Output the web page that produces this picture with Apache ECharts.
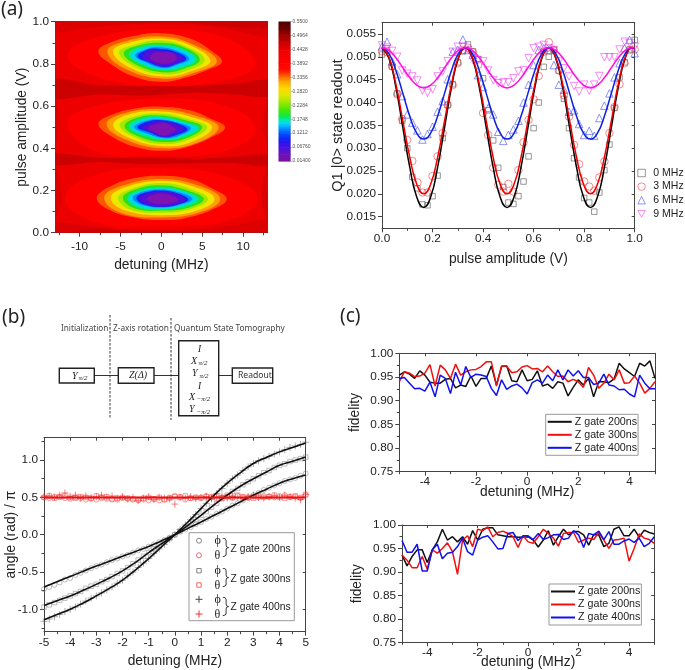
<!DOCTYPE html>
<html><head><meta charset="utf-8">
<style>html,body{margin:0;padding:0;background:#fff}#main{width:685px;height:670px;filter:blur(0.45px)}</style>
<script src="https://cdn.jsdelivr.net/npm/echarts@6/dist/echarts.min.js"></script>
</head><body><div id="main"></div>
<script>
// ---------- panel (a) left: contour map, rings as [detuning MHz, amplitude V]
const contourColors = ['#cc0000','#dc0000','#ff0000','#ff5500','#ffa000','#eee800','#a4e800','#28e020','#00e8a0','#00d4f4','#0088ff','#1a20f0','#5010d8','#7f12b0'];
const bandRings = [
 [0,[[-13,.635],[-8,.655],[-2,.65],[4,.665],[9,.655],[13,.645],[13,.725],[9,.705],[4,.70],[-2,.695],[-8,.70],[-13,.73]]],
 [0,[[-13,.32],[-8,.335],[-2,.325],[4,.33],[9,.33],[13,.315],[13,.37],[9,.36],[4,.35],[-2,.355],[-8,.355],[-13,.375]]],
 [1,[[-13,.95],[-9,.97],[-3,.99],[3,.99],[9,.96],[13,.93],[13,1.02],[-13,1.02]]],
 [1,[[-13,-.02],[13,-.02],[13,.06],[9,.035],[3,.012],[-3,.012],[-9,.03],[-13,.05]]],
 [0,[[-4,.995],[2,1.0],[9,.975],[13,.97],[13,1.02],[-4,1.02]]],
 [0,[[-11,.005],[-8,.02],[-5,.008],[-5,-.01],[-12,-.01]]],
 [1,[[-13,.06],[-12.2,.16],[-12.5,.27],[-13,.33]]],
 [1,[[13,.05],[12.2,.16],[12.5,.27],[13,.33]]],
 [1,[[-13,.4],[-12.4,.5],[-12.6,.58],[-13,.65]]],
 [1,[[13,.4],[12.4,.5],[12.6,.58],[13,.65]]]
];
const haloRings = [
 [2,[[-11.5,.84],[-8,.925],[0,.965],[8,.92],[11.5,.80],[8,.725],[0,.695],[-8,.74]]],
 [2,[[-11.5,.52],[-8,.60],[0,.635],[8,.60],[11.5,.49],[8,.39],[0,.365],[-8,.385]]],
 [2,[[-11.8,.165],[-8,.275],[0,.305],[8,.265],[11.8,.16],[8,.055],[0,.03],[-8,.05]]]
];
const ringsTop = [
 [[-7.7,.86],[-6,.905],[-3,.935],[0,.945],[3.5,.92],[6,.865],[7.4,.81],[5.5,.77],[3,.735],[.3,.715],[-3,.735],[-6,.795]],
 [[-6.6,.86],[-4.6,.905],[0,.93],[4,.89],[6.8,.815],[4.6,.765],[.3,.73],[-4.6,.78]],
 [[-5.9,.86],[-4,.9],[0,.92],[3.7,.885],[6,.815],[4,.77],[.3,.74],[-4,.785]],
 [[-5.2,.855],[-3.4,.89],[0,.912],[3.4,.875],[5.3,.82],[3.6,.775],[.3,.75],[-3.4,.79]],
 [[-4.6,.85],[-3,.885],[0,.9],[3,.875],[4.7,.82],[3,.78],[.3,.76],[-3,.795]],
 [[-4,.845],[-2.6,.88],[0,.89],[2.7,.87],[4.3,.82],[2.7,.785],[.3,.77],[-2.5,.80]],
 [[-3.6,.84],[-2.2,.875],[0,.885],[2.5,.865],[4,.825],[2.5,.79],[.3,.775],[-2.2,.80]],
 [[-3.2,.84],[-1.9,.87],[-.5,.88],[1.9,.862],[3.4,.825],[2.1,.798],[.3,.78],[-1.9,.808]],
 [[-2.9,.835],[-1.7,.868],[-.3,.872],[1.7,.858],[3.05,.825],[1.8,.80],[.3,.785],[-1.7,.81]],
 [[-2.3,.835],[-1.5,.865],[-.2,.862],[1.5,.855],[2.7,.825],[1.6,.80],[.3,.79],[-1.5,.81]],
 [[-1.4,.83],[-.7,.855],[.3,.855],[1.4,.85],[1.9,.825],[1.2,.805],[.3,.80],[-.8,.81]]
];
const ringsMiddle = [
 [[-7.7,.515],[-6,.56],[-3,.59],[0,.597],[3.5,.58],[6,.54],[7.8,.50],[6,.45],[3,.405],[.3,.388],[-3,.405],[-6,.455]],
 [[-6.7,.515],[-4.6,.565],[0,.585],[4.6,.55],[7,.5],[4.6,.43],[.3,.4],[-4.6,.445]],
 [[-5.9,.51],[-4,.56],[0,.575],[4,.545],[6.2,.5],[4,.435],[.3,.41],[-4,.45]],
 [[-5.1,.51],[-3.4,.55],[0,.565],[3.6,.535],[5.6,.5],[3.6,.445],[.3,.42],[-3.4,.455]],
 [[-4.5,.505],[-3,.545],[0,.555],[3.2,.53],[5,.5],[3.2,.45],[.3,.43],[-3,.46]],
 [[-4,.505],[-2.6,.54],[0,.55],[2.8,.525],[4.6,.495],[2.8,.455],[.3,.44],[-2.6,.465]],
 [[-3.6,.50],[-2.2,.535],[0,.542],[2.4,.525],[4.3,.495],[2.4,.46],[.3,.445],[-2.2,.47]],
 [[-3.3,.50],[-1.9,.53],[0,.537],[2.2,.52],[3.6,.495],[2.2,.46],[.3,.448],[-1.9,.472]],
 [[-2.9,.50],[-1.6,.528],[0,.533],[2,.518],[3.2,.49],[2,.465],[.3,.452],[-1.6,.478]],
 [[-2.3,.50],[-1.3,.52],[0,.53],[1.8,.515],[2.7,.49],[1.7,.47],[.3,.455],[-1.3,.48]],
 [[-1.6,.495],[-.7,.515],[.4,.52],[1.3,.505],[1.8,.49],[1.1,.47],[.3,.46],[-.8,.475]]
];
const ringsBottom = [
 [[-7.9,.163],[-6.2,.22],[-3,.26],[0,.27],[3.5,.255],[6.2,.21],[8,.16],[6.2,.11],[3,.07],[.3,.06],[-3,.07],[-6.2,.105]],
 [[-7,.165],[-5,.22],[0,.255],[4.8,.22],[7.2,.16],[5,.10],[.3,.072],[-5,.095]],
 [[-6.2,.165],[-4.4,.215],[0,.245],[4.2,.215],[6.5,.16],[4.4,.105],[.3,.083],[-4.4,.105]],
 [[-5.3,.165],[-3.8,.205],[0,.235],[3.7,.205],[5.7,.16],[3.8,.115],[.3,.095],[-3.8,.11]],
 [[-4.7,.165],[-3.2,.205],[0,.225],[3.2,.20],[5.2,.16],[3.4,.12],[.3,.105],[-3.2,.115]],
 [[-4.2,.165],[-2.8,.20],[0,.215],[2.9,.195],[4.6,.16],[3,.125],[.3,.11],[-2.8,.12]],
 [[-3.9,.165],[-2.5,.195],[0,.21],[2.6,.195],[4.2,.16],[2.7,.13],[.3,.115],[-2.5,.125]],
 [[-3.5,.165],[-2.2,.195],[0,.205],[2.3,.19],[3.8,.16],[2.4,.135],[.3,.12],[-2.2,.13]],
 [[-3.05,.165],[-2,.19],[0,.2],[2.1,.185],[3.3,.157],[2.2,.135],[.3,.122],[-2,.132]],
 [[-2.7,.165],[-1.8,.185],[0,.195],[2,.185],[2.9,.155],[2,.137],[.3,.125],[-1.8,.135]],
 [[-1.8,.16],[-1,.18],[.3,.185],[1.4,.175],[2.1,.155],[1.2,.14],[.3,.135],[-1,.14]]
];
// colour scale: [value, colour]
const colorbarStops = [[.014,'#7d0f9f'],[.04,'#6a10c0'],[.067,'#4a10e0'],[.094,'#1a18f4'],[.121,'#0050ff'],[.148,'#00b0ff'],[.161,'#00e0f0'],[.175,'#00e8a0'],[.188,'#10e840'],[.215,'#50e800'],[.242,'#a0e800'],[.269,'#e0e800'],[.296,'#ffd800'],[.323,'#ffa000'],[.336,'#ff7000'],[.35,'#ff4000'],[.363,'#ff1000'],[.39,'#ff0000'],[.44,'#f00000'],[.47,'#c80000'],[.497,'#a00000'],[.523,'#700000'],[.55,'#4a0000']];
const colorbarTicks = [.014,.0676,.1212,.1748,.2284,.282,.3356,.3892,.4428,.4964,.55];
const colorbarLabels = ['0.01400','0.06760','0.1212','0.1748','0.2284','0.2820','0.3356','0.3892','0.4428','0.4964','0.5500'];

// ---------- panel (a) right
const ampX = [0,.02,.04,.06,.08,.1,.12,.14,.16,.18,.2,.22,.24,.26,.28,.3,.32,.34,.36,.38,.4,.42,.44,.46,.48,.5,.52,.54,.56,.58,.6,.62,.64,.66,.68,.7,.72,.74,.76,.78,.8,.82,.84,.86,.88,.9,.92,.94,.96,.98,1];
const read0 = [.0505,.0515,.0478,.042,.036,.030,.0237,.0212,.0177,.0175,.0195,.024,.0322,.0395,.044,.0488,.0512,.0527,.0512,.0495,.0453,.0383,.0317,.0257,.0215,.0181,.0178,.0195,.0227,.0282,.0344,.040,.0478,.050,.0515,.047,.0408,.0344,.0278,.0236,.0191,.0181,.0161,.0203,.0252,.0308,.0388,.0455,.0488,.0516,.0537];
const read3 = [.0512,.051,.048,.0418,.0364,.0318,.0272,.0225,.0203,.0203,.0239,.0282,.0333,.0394,.0438,.0486,.0515,.052,.051,.0482,.0377,.0329,.0257,.022,.0205,.0222,.0205,.0252,.0313,.0362,.0407,.0458,.0511,.0532,.0515,.047,.0416,.0369,.0307,.0265,.0227,.0216,.0207,.0236,.0271,.0333,.039,.044,.0486,.0515,.0516];
const read6 = [.0523,.0533,.049,.0462,.0414,.0374,.0356,.0339,.0319,.0331,.0347,.038,.0403,.0451,.0511,.0515,.0538,.0515,.0504,.046,.0434,.0388,.0374,.0336,.0316,.0329,.0341,.036,.04,.0439,.0482,.0515,.0519,.0515,.0482,.0439,.0428,.038,.0383,.0353,.0329,.0338,.0327,.0366,.0393,.042,.0455,.0486,.0519,.0537,.0508];
const read9 = [.0525,.052,.0513,.05,.047,.0463,.0457,.0448,.0426,.0421,.0429,.0457,.0468,.049,.0511,.0522,.0522,.0515,.0493,.0493,.049,.047,.0449,.0442,.0444,.0444,.0453,.0468,.0471,.0497,.0519,.0522,.0526,.0519,.0515,.049,.0475,.0457,.0436,.0424,.0439,.0426,.0439,.0458,.0499,.0499,.0499,.0516,.0533,.053,.0522];
const fitAmpX = [0,.0275,.055,.0825,.11,.1375,.165,.1925,.22,.2475,.275,.3025,.33,.3575,.385,.4125,.44,.4675,.495,.5225,.55,.5775,.605,.6325,.66,.6875,.715,.7425,.77,.7975,.825,.8525,.88,.9075,.935,.9625,.99,1];
const fit0 = [.052,.0497,.0433,.0345,.0258,.0193,.017,.0193,.0258,.0345,.0433,.0497,.052,.0497,.0433,.0345,.0258,.0193,.017,.0193,.0258,.0345,.0433,.0497,.052,.0497,.0433,.0345,.0258,.0193,.017,.0193,.0258,.0345,.0433,.0497,.052,.0518];
const fit3 = [.052,.0499,.044,.036,.028,.0221,.02,.0221,.028,.036,.044,.0499,.052,.0499,.044,.036,.028,.0221,.02,.0221,.028,.036,.044,.0499,.052,.0499,.044,.036,.028,.0221,.02,.0221,.028,.036,.044,.0499,.052,.0518];
const fit6 = [.052,.0507,.047,.042,.037,.0333,.032,.0333,.037,.042,.047,.0507,.052,.0507,.047,.042,.037,.0333,.032,.0333,.037,.042,.047,.0507,.052,.0507,.047,.042,.037,.0333,.032,.0333,.037,.042,.047,.0507,.052,.0519];
const fit9 = [.052,.0514,.0498,.0476,.0454,.0438,.0432,.0438,.0454,.0476,.0498,.0514,.052,.0514,.0498,.0476,.0454,.0438,.0432,.0438,.0454,.0476,.0498,.0514,.052,.0514,.0498,.0476,.0454,.0438,.0432,.0438,.0454,.0476,.0498,.0514,.052,.052];

// ---------- panel (b)
const detX = [-5,-4.8,-4.6,-4.4,-4.2,-4,-3.8,-3.6,-3.4,-3.2,-3,-2.8,-2.6,-2.4,-2.2,-2,-1.8,-1.6,-1.4,-1.2,-1,-.8,-.6,-.4,-.2,0,.2,.4,.6,.8,1,1.2,1.4,1.6,1.8,2,2.2,2.4,2.6,2.8,3,3.2,3.4,3.6,3.8,4,4.2,4.4,4.6,4.8,5];
const phi200 = [-.73,-.70,-.67,-.64,-.60,-.58,-.54,-.51,-.48,-.45,-.42,-.40,-.37,-.34,-.32,-.29,-.27,-.24,-.21,-.19,-.16,-.13,-.10,-.07,-.04,0,.04,.07,.10,.14,.17,.21,.24,.28,.31,.35,.39,.42,.46,.50,.53,.56,.60,.63,.66,.69,.72,.74,.76,.79,.82];
const phi300 = [-.97,-.94,-.91,-.88,-.85,-.82,-.79,-.76,-.72,-.69,-.665,-.63,-.60,-.56,-.52,-.485,-.44,-.39,-.34,-.29,-.24,-.19,-.14,-.09,-.05,0,.05,.10,.15,.20,.26,.31,.37,.42,.48,.53,.58,.62,.67,.71,.75,.79,.83,.86,.90,.93,.95,.98,1.0,1.02,1.04];
const phi400 = [-1.16,-1.13,-1.10,-1.07,-1.03,-1.0,-.97,-.93,-.89,-.85,-.82,-.78,-.74,-.70,-.65,-.61,-.55,-.50,-.44,-.38,-.32,-.25,-.19,-.13,-.06,0,.07,.13,.20,.27,.35,.42,.48,.55,.62,.69,.75,.80,.86,.91,.955,.99,1.02,1.05,1.08,1.11,1.14,1.17,1.19,1.21,1.24];
const theta200 = [.50,.49,.51,.50,.49,.48,.50,.49,.47,.48,.47,.49,.48,.47,.47,.49,.48,.47,.46,.47,.46,.48,.46,.47,.50,.52,.51,.47,.49,.50,.50,.52,.51,.48,.50,.51,.49,.52,.50,.49,.51,.50,.52,.51,.50,.52,.53,.50,.51,.49,.53];
const theta300 = [.50,.52,.49,.51,.52,.50,.49,.51,.50,.49,.52,.50,.51,.48,.49,.50,.49,.48,.47,.49,.50,.48,.50,.47,.49,.51,.50,.52,.49,.50,.49,.51,.50,.52,.49,.51,.50,.53,.51,.50,.49,.52,.50,.51,.53,.50,.49,.51,.52,.50,.54];
const theta400 = [.51,.52,.50,.53,.56,.51,.53,.49,.52,.50,.51,.53,.50,.52,.49,.51,.48,.50,.46,.49,.51,.47,.50,.49,.48,.41,.50,.49,.51,.48,.50,.51,.49,.50,.52,.49,.51,.50,.49,.51,.53,.50,.49,.51,.52,.50,.53,.51,.49,.47,.54];
const fitDetX = [-5,-4.5,-4,-3.5,-3,-2.5,-2,-1.5,-1,-.5,0,.5,1,1.5,2,2.5,3,3.5,4,4.5,5];
const fit200 = [-.70,-.63,-.56,-.49,-.42,-.355,-.29,-.225,-.157,-.08,0,.085,.17,.26,.35,.44,.53,.61,.69,.75,.80];
const fit300 = [-.95,-.885,-.82,-.745,-.665,-.58,-.485,-.37,-.24,-.12,0,.125,.26,.40,.53,.65,.75,.84,.93,.985,1.04];
const fit400 = [-1.14,-1.07,-1.0,-.915,-.82,-.72,-.61,-.47,-.32,-.16,0,.17,.35,.53,.69,.83,.955,1.035,1.11,1.17,1.23];
const fitTheta = [.5,.5,.5,.5,.5,.5,.5,.5,.5,.5,.5,.5,.5,.5,.5,.5,.5,.5,.5,.5,.5];

// ---------- panel (c)
const topFid200 = [.954,.961,.956,.947,.963,.954,.939,.937,.937,.945,.947,.927,.933,.93,.952,.93,.947,.947,.973,.933,.972,.973,.942,.94,.965,.942,.945,.963,.931,.935,.926,.94,.937,.91,.928,.944,.933,.947,.908,.94,.94,.938,.946,.979,.967,.959,.951,.979,.973,.984,.947];
const topFid300 = [.94,.961,.958,.951,.952,.958,.976,.931,.975,.965,.947,.977,.954,.961,.965,.966,.972,.982,.982,.931,.973,.973,.959,.961,.971,.974,.967,.968,.961,.973,.961,.951,.952,.94,.945,.94,.928,.97,.954,.926,.937,.956,.944,.965,.937,.938,.952,.937,.916,.926,.94];
const topFid400 = [.947,.949,.937,.925,.926,.92,.939,.908,.954,.947,.915,.96,.933,.972,.949,.956,.954,.951,.926,.911,.944,.924,.931,.935,.927,.914,.938,.944,.937,.954,.942,.965,.944,.965,.952,.963,.949,.949,.934,.937,.956,.933,.931,.923,.924,.914,.908,.954,.937,.925,.925];
const botFid200 = [.936,.913,.933,.947,.947,.92,.947,.964,.991,.968,.975,.964,.975,.959,.988,.968,.991,.994,.994,.979,.977,.975,.975,.974,.974,.975,.968,.953,.968,.988,.957,.975,.991,.979,.986,.986,.979,.957,.98,.979,.954,.961,.991,.996,.977,.977,.991,.974,.989,.984,.981];
const botFid300 = [.936,.925,.909,.909,.933,.906,.947,.94,.95,.962,.943,.895,.968,.977,.954,.991,.988,.996,.975,.984,.987,.982,.975,.952,.977,.964,.961,.975,.991,.982,.972,.955,.982,.984,.984,.963,.968,.972,.969,.984,.968,.95,.968,.969,.972,.923,.95,.981,.972,.969,.961];
const botFid400 = [.967,.942,.942,.959,.902,.902,.947,.959,.928,.94,.942,.954,.972,.943,.936,.968,.974,.977,.964,.949,.95,.982,.984,.967,.977,.977,.969,.982,.969,.973,.979,.98,.969,.972,.988,.979,.952,.982,.979,.987,.969,.986,.959,.959,.966,.97,.963,.972,.954,.961,.975];

const SANS = '"Liberation Sans",Arial,sans-serif', INK = '#222', FRAME = '#444';
const pairs = (xs, ys) => xs.map((x, i) => [x, ys[i]]);

const grids = [], xAxes = [], yAxes = [], series = [], legends = [];
function panel(g, o) {
  const gi = grids.length;
  grids.push(Object.assign({left: g[0], top: g[1], width: g[2], height: g[3], containLabel: false, outerBoundsMode: 'none'}, o.bg ? {show: true, backgroundColor: o.bg, borderWidth: 0} : {}));
  const common = {type: 'value', gridIndex: gi, splitLine: {show: false}, silent: true, axisPointer: {show: false}, nameMoveOverlap: false};
  const line = {show: true, onZero: false, lineStyle: {color: FRAME, width: 1}};
  const tick = c => ({show: true, length: 4, customValues: c, lineStyle: {color: FRAME, width: 1}});
  const minor = c => ({show: true, length: 2.5, customValues: c, lineStyle: {color: FRAME, width: 1}});
  const ax = {gi, x: xAxes.length, y: yAxes.length};
  const nameStyle = {color: INK, fontFamily: SANS, fontSize: 13.8};
  xAxes.push(Object.assign({}, common, {min: o.x[0], max: o.x[1], position: 'bottom', axisLine: line, axisTick: tick(o.xMajor),
    axisLabel: {show: true, customValues: o.xMajor, margin: o.xMargin, color: INK, fontFamily: SANS, fontSize: 11.8, formatter: v => v.toFixed(o.xDigits || 0)},
    name: o.xName, nameLocation: 'middle', nameGap: o.xGap, nameTextStyle: nameStyle}));
  yAxes.push(Object.assign({}, common, {min: o.y[0], max: o.y[1], position: 'left', axisLine: line, axisTick: tick(o.yMajor),
    axisLabel: {show: true, customValues: o.yMajor, margin: 6, color: INK, fontFamily: SANS, fontSize: 11.8, formatter: v => v.toFixed(o.yDigits || 0)},
    name: o.yName, nameLocation: 'middle', nameGap: o.yGap, nameTextStyle: Object.assign({}, nameStyle, o.yNameSize ? {fontSize: o.yNameSize} : {})}));
  const bare = {show: false, onZero: false};
  xAxes.push(Object.assign({}, common, {min: o.x[0], max: o.x[1], position: 'bottom', axisLine: bare, axisLabel: {show: false}, axisTick: minor(o.xMinor)}));
  yAxes.push(Object.assign({}, common, {min: o.y[0], max: o.y[1], position: 'left', axisLine: bare, axisLabel: {show: false}, axisTick: minor(o.yMinor)}));
  const t = o.mirror ? Object.assign(tick(o.xMajor), {inside: true, length: 3}) : {show: false};
  const r = o.mirror ? Object.assign(tick(o.yMajor), {inside: true, length: 3}) : {show: false};
  xAxes.push(Object.assign({}, common, {min: o.x[0], max: o.x[1], position: 'top', axisLine: line, axisLabel: {show: false}, axisTick: t}));
  yAxes.push(Object.assign({}, common, {min: o.y[0], max: o.y[1], position: 'right', axisLine: line, axisLabel: {show: false}, axisTick: r}));
  return {xAxisIndex: ax.x, yAxisIndex: ax.y};
}

// (a) contour map
const mapAx = panel([55, 21.7, 212.7, 211], {bg: '#ec0000', x: [-13, 13], y: [0, 1], xMajor: [-10,-5,0,5,10], xMinor: [-12.5,-7.5,-2.5,2.5,7.5,12.5],
  yMajor: [0,.2,.4,.6,.8,1], yMinor: [.1,.3,.5,.7,.9], yDigits: 1, xName: 'detuning (MHz)', xGap: 25, yName: 'pulse amplitude (V)', yGap: 26, xMargin: 8});
const ringItems = [];
bandRings.forEach(r => ringItems.push({c: r[0], pts: r[1]}));
haloRings.forEach(r => ringItems.push({c: r[0], pts: r[1]}));
[ringsTop, ringsMiddle, ringsBottom].forEach(b => b.forEach((pts, i) => ringItems.push({c: i + 3, pts})));
series.push(Object.assign({type: 'custom', clip: true, silent: true, data: ringItems.map((r, i) => [i]),
  encode: {x: [], y: []},
  renderItem: (p, api) => {
    const r = ringItems[p.dataIndex];
    return {type: 'polygon', shape: {points: r.pts.map(q => api.coord(q)), smooth: r.c < 2 ? 0.2 : 0.42}, style: {fill: contourColors[r.c]}};
  }}, mapAx));

// colour bar
const barGi = grids.length;
grids.push({left: 278.5, top: 21.5, width: 12, height: 139.5, outerBoundsMode: 'none'});
xAxes.push({type: 'value', gridIndex: barGi, min: 0, max: 1, show: false});
yAxes.push({type: 'value', gridIndex: barGi, min: .014, max: .55, position: 'right', splitLine: {show: false},
  axisLine: {show: true, onZero: false, lineStyle: {color: '#888', width: .5}},
  axisTick: {show: true, length: 2, customValues: colorbarTicks, lineStyle: {color: '#888', width: .5}},
  axisLabel: {show: true, customValues: colorbarTicks, margin: 2, color: '#555', fontFamily: SANS, fontSize: 5,
    formatter: v => colorbarLabels[colorbarTicks.findIndex(t => Math.abs(t - v) < 1e-6)] || ''}});
series.push({type: 'custom', xAxisIndex: xAxes.length - 1, yAxisIndex: yAxes.length - 1, silent: true,
  data: colorbarStops.slice(0, -1).map((s, i) => [s[0], colorbarStops[i + 1][0]]), encode: {x: [], y: [0, 1]},
  renderItem: (p, api) => {
    const a = api.coord([0, api.value(0)]), b = api.coord([1, api.value(1)]);
    const s0 = colorbarStops[p.dataIndex][1], s1 = colorbarStops[p.dataIndex + 1][1];
    return {type: 'rect', shape: {x: a[0], y: b[1], width: b[0] - a[0], height: a[1] - b[1] + .6},
      style: {fill: new echarts.graphic.LinearGradient(0, 1, 0, 0, [{offset: 0, color: s0}, {offset: 1, color: s1}])}};
  }});

// (a) readout traces
const rabiAx = panel([382, 22.7, 252.7, 205.6], {x: [0, 1], y: [.01246, .05747], xMajor: [0,.2,.4,.6,.8,1], xMinor: [.1,.3,.5,.7,.9], xDigits: 1,
  yMajor: [.015,.02,.025,.03,.035,.04,.045,.05,.055], yMinor: [], yDigits: 3, xName: 'pulse amplitude (V)', xGap: 23.5, yName: 'Q1 |0> state readout', yGap: 37, yNameSize: 14.5, mirror: true, xMargin: 4.7});
const tri = 'path://M0 0H10L5 9Z';
const rabi = [['0 MHz', read0, fit0, '#444', '#000', 'rect'], ['3 MHz', read3, fit3, '#f03030', '#ee0000', 'circle'],
  ['6 MHz', read6, fit6, '#3040f0', '#1020e0', 'triangle'], ['9 MHz', read9, fit9, '#f030f0', '#ff10e0', tri]];
rabi.forEach(r => {
  series.push(Object.assign({type: 'scatter', name: r[0], data: pairs(ampX, r[1]), symbol: r[5], symbolSize: r[5] === 'rect' ? 5.5 : 7.5, silent: true,
    itemStyle: {color: 'rgba(255,255,255,0)', borderColor: r[3], borderWidth: .7}, z: 2}, rabiAx));
});
rabi.forEach(r => {
  series.push(Object.assign({type: 'line', name: 'fit ' + r[0], data: pairs(fitAmpX, r[2]), smooth: true, symbol: 'none', silent: true,
    lineStyle: {color: r[4], width: 1.5}, z: 3}, rabiAx));
});
legends.push({left: 637.5, top: 167.5, orient: 'vertical', itemWidth: 7.5, itemHeight: 7.5, itemGap: 2.6, padding: 0, selectedMode: false,
  itemStyle: {borderWidth: .7},
  data: [{name: '0 MHz', icon: 'rect'}, {name: '3 MHz', icon: 'circle'}, {name: '6 MHz', icon: 'triangle'}, {name: '9 MHz', icon: tri}],
  textStyle: {color: INK, fontFamily: SANS, fontSize: 10.5, padding: [0, 0, 0, 3]}});

// (b) angle panel
const angAx = panel([44, 437.7, 261.7, 194], {x: [-5, 5], y: [-1.3, 1.3], xMajor: [-5,-4,-3,-2,-1,0,1,2,3,4,5], xMinor: [-4.5,-3.5,-2.5,-1.5,-.5,.5,1.5,2.5,3.5,4.5],
  yMajor: [-1,-.5,0,.5,1], yMinor: [-1.25,-.75,-.25,.25,.75,1.25], yDigits: 1, xName: 'detuning (MHz)', xGap: 22.5, yName: 'angle (rad) / π', yGap: 25.5, mirror: true, xMargin: 4.7});
const plus = 'path://M0 5H10M5 0V10';
[[phi200,'#888','circle',5],[phi300,'#888','rect',4.5],[phi400,'#666',plus,7],
 [theta200,'#f05050','circle',5],[theta300,'#f05050','rect',4.5],[theta400,'#f02020',plus,7]].forEach(s => {
  series.push(Object.assign({type: 'scatter', data: pairs(detX, s[0]), symbol: s[2], symbolSize: s[3], silent: true,
    itemStyle: {color: 'rgba(255,255,255,0)', borderColor: s[1], borderWidth: .7}, z: 2}, angAx));
});
[fit200, fit300, fit400].forEach(f => series.push(Object.assign({type: 'line', data: pairs(fitDetX, f), smooth: true, symbol: 'none', silent: true, lineStyle: {color: '#111', width: 1.6}, z: 3}, angAx)));
series.push(Object.assign({type: 'line', data: pairs(fitDetX, fitTheta), symbol: 'none', silent: true, lineStyle: {color: '#ee1010', width: 2}, z: 3}, angAx));

// (c) fidelity panels
function fidelity(g, top, xGap, yGap, leg) {
  const ax = panel(g, {x: [-5, 5], y: [.75, 1], xMajor: [-4,-2,0,2,4], xMinor: [-5,-3,-1,1,3,5], yMajor: [.75,.8,.85,.9,.95,1], yMinor: [.775,.825,.875,.925,.975],
    yDigits: 2, xName: 'detuning (MHz)', xGap, yName: 'fidelity', yGap, mirror: true, xMargin: 4.5});
  [['Z gate 200ns', top[0], '#111'], ['Z gate 300ns', top[1], '#f01010'], ['Z gate 400ns', top[2], '#1010f0']].forEach(s => {
    series.push(Object.assign({type: 'line', name: s[0], data: pairs(detX, s[1]), symbol: 'none', silent: true, lineStyle: {color: s[2], width: 1.5}}, ax));
  });
  legends.push(Object.assign({orient: 'vertical', itemWidth: 24, itemHeight: 2, itemGap: 2, selectedMode: false, borderColor: '#999', borderWidth: 1, backgroundColor: '#fff',
    itemStyle: {opacity: 0},
    data: ['Z gate 200ns', 'Z gate 300ns', 'Z gate 400ns'], textStyle: {color: INK, fontFamily: SANS, fontSize: 10.7, padding: [0, 0, 0, -2]}}, leg));
}
fidelity([399.3, 353.3, 255.7, 118.4], [topFid200, topFid300, topFid400], 13, 37.5, {left: 545.7, top: 414.3, padding: [2, 1, 2, 1]});
fidelity([402, 525, 252.3, 117.3], [botFid200, botFid300, botFid400], 13, 37.5, {left: 549, top: 584, padding: [2, 1, 2, 1]});

// ---------- drawn text and circuit
const t = (x, y, text, size, font, extra) => ({type: 'text', x, y, silent: true, style: Object.assign({text, fontSize: size, fontFamily: font, fill: INK, textVerticalAlign: 'middle'}, extra || {})});
const NOTO = '"Noto Sans",sans-serif', SERIF = '"Liberation Serif",serif';
const box = (x, y, w, h) => ({type: 'rect', shape: {x, y, width: w, height: h}, style: {fill: '#fff', stroke: '#222', lineWidth: 1.4}, silent: true});
const seg = (x1, y1, x2, y2, dash, col) => ({type: 'line', shape: {x1, y1, x2, y2}, style: {stroke: col || '#333', lineWidth: 1, lineDash: dash || null}, silent: true});
const math = (x, y, main, sub) => [t(x, y, main, 10, SERIF, {fontStyle: 'italic'}), t(x + 7.5, y + 2.5, sub, 7, SERIF, {fontStyle: 'italic'})];
const circ = (cx, cy, c) => ({type: 'circle', shape: {cx, cy, r: 2.5}, style: {fill: 'none', stroke: c, lineWidth: .8}, silent: true});
const sq = (cx, cy, c) => ({type: 'rect', shape: {x: cx - 2.2, y: cy - 2.2, width: 4.4, height: 4.4}, style: {fill: 'none', stroke: c, lineWidth: .8}, silent: true});
const pl = (cx, cy, c) => [seg(cx - 3.5, cy, cx + 3.5, cy, null, c), seg(cx, cy - 3.5, cx, cy + 3.5, null, c)];
const graphics = [
  t(1, 10, '(a)', 19, NOTO), t(2, 318, '(b)', 19, NOTO), t(340, 317, '(c)', 19, NOTO),
  t(61, 329, 'Initialization', 8.2, NOTO, {fill: '#444'}), t(113, 329, 'Z-axis rotation', 8.3, NOTO, {fill: '#444'}), t(174, 329, 'Quantum State Tomography', 8.3, NOTO, {fill: '#444'}),
  seg(94, 375.5, 119, 375.5), seg(154, 375.5, 179, 375.5), seg(218.7, 375.5, 232.3, 375.5),
  seg(110, 315, 110, 418, [2.5, 1.5], '#333'), seg(171, 318, 171, 420, [2.5, 1.5], '#333'),
  box(59.3, 368.3, 35, 14.7), box(118.3, 367.7, 35.7, 15.6), box(178.7, 340.7, 40, 75), box(232.3, 368, 40.4, 15.3),
  t(72, 376, 'Y', 10, SERIF, {fontStyle: 'italic'}), t(78.5, 378, 'π/2', 7, SERIF, {fontStyle: 'italic'}),
  t(129, 375.5, 'Z(Δ)', 10, SERIF, {fontStyle: 'italic'}), t(238, 376, 'Readout', 8.6, NOTO, {fill: '#333'}),
  t(198, 349, 'I', 9.5, SERIF, {fontStyle: 'italic'}),
  ...math(191, 361, 'X', 'π/2'), ...math(192, 373.5, 'Y', 'π/2'),
  t(198, 386, 'I', 9.5, SERIF, {fontStyle: 'italic'}),
  ...math(189, 397, 'X', '−π/2'), ...math(189, 409.5, 'Y', '−π/2'),
  // angle-panel key
  {type: 'rect', shape: {x: 189, y: 532.7, width: 105.3, height: 88}, style: {fill: '#fff', stroke: '#999', lineWidth: 1}, silent: true, z: 5},
  ...[circ(199, 540.7, '#666'), circ(199, 555.3, '#f04040'), sq(199, 570.7, '#666'), sq(199, 585, '#f04040'), ...pl(199, 599.3, '#444'), ...pl(199, 614, '#f03030'),
    t(214.5, 541, 'ϕ', 12, SERIF), t(214.5, 556, 'θ', 12, SERIF), t(214.5, 571, 'ϕ', 12, SERIF), t(214.5, 586, 'θ', 12, SERIF), t(214.5, 599.5, 'ϕ', 12, SERIF), t(214.5, 614.5, 'θ', 12, SERIF),
    t(222, 548, '}', 22, NOTO, {fontWeight: 200}), t(222, 578, '}', 22, NOTO, {fontWeight: 200}), t(222, 606.5, '}', 22, NOTO, {fontWeight: 200}),
    t(230.5, 549, 'Z gate 200ns', 10.3, SANS), t(230.5, 579, 'Z gate 300ns', 10.3, SANS), t(230.5, 607.5, 'Z gate 400ns', 10.3, SANS)]
    .map(e => Object.assign(e, {z: 6}))
];

const chart = echarts.init(document.getElementById('main'), null, {renderer: 'canvas'});
chart.setOption({animation: false, grid: grids, xAxis: xAxes, yAxis: yAxes, series, legend: legends, graphic: {elements: graphics}, tooltip: {show: false}});
</script></body></html>
